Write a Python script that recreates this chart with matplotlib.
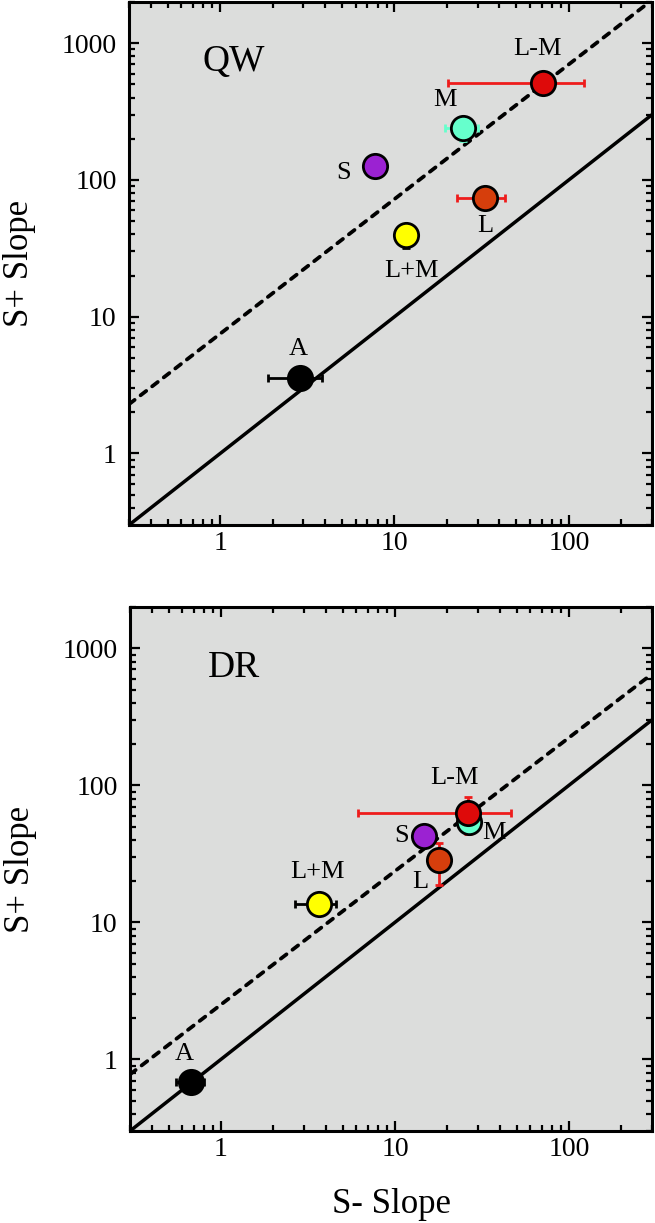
import numpy as np
import matplotlib
matplotlib.use("Agg")
import matplotlib.pyplot as plt
from matplotlib.ticker import LogLocator, NullFormatter, FixedLocator, FixedFormatter

plt.rcParams['font.family'] = ['Liberation Serif', 'DejaVu Serif']

# ---------------- data ----------------
labels = ["A", "L+M", "S", "M", "L", "L-M"]
face_colors = ["#000000", "#FFFF00", "#9B22D2", "#66FFCC", "#D63E0C", "#DE0A0A"]
err_colors = ["#000000", "#000000", "#9B22D2", "#66FFCC", "#EE1C1C", "#EE1C1C"]

# QW panel
qw_x = [2.86, 11.7, 7.75, 24.8, 33.0, 71.0]
qw_y = [3.54, 39.8, 126.0, 240.0, 73.9, 508.0]
qw_xerr = [0.99, 0.0, 0.0, 5.3, 10.3, 50.6]
qw_yerr = [0.0, 8.0, 0.0, 48.0, 0.0, 0.0]

# DR panel
dr_x = [0.673, 3.64, 14.6, 26.7, 18.0, 26.3]
dr_y = [0.688, 13.6, 42.5, 54.4, 28.4, 63.0]
dr_xerr = [0.125, 0.96, 0.0, 0.0, 0.0, 20.2]
dr_yerr = [0.0, 0.0, 0.0, 0.0, 9.8, 19.0]

# reference lines: y = coef * x ** expo
ident_coef, ident_expo = 1.0, 1.0
qw_dash_coef, qw_dash_expo = 7.5, 0.985
dr_dash_coef, dr_dash_expo = 2.51, 0.974

x_lim = (0.3, 300)
y_lim = (0.3, 2000)
x_ticks = [1, 10, 100]
x_tick_labels = ["1", "10", "100"]
y_ticks = [1, 10, 100, 1000]
y_tick_labels = ["1", "10", "100", "1000"]

# label offsets (points) for each marker label
qw_offsets = [(-1, 21), (4, -26), (-23, -5), (-13, 20), (0, -20), (-4, 25)]
dr_offsets = [(-5, 20), (-1, 23), (-16, 0), (18, -8), (-14, -16), (-10, 25)]

W, H = 655, 1223
fig = plt.figure(figsize=(W / 100, H / 100), dpi=100)

def axes_px(l, t, r, b):
    return [l / W, 1 - b / H, (r - l) / W, (b - t) / H]

ax1 = fig.add_axes(axes_px(129, 2, 652, 525))
ax2 = fig.add_axes(axes_px(130, 607, 652, 1131))

def draw_panel(ax, xs, ys, xerr, yerr, dcoef, dexpo, offsets, title):
    ax.set_facecolor("#DCDDDC")
    ax.set_xscale("log")
    ax.set_yscale("log")
    ax.set_xlim(*x_lim)
    ax.set_ylim(*y_lim)
    xl = np.logspace(np.log10(x_lim[0]), np.log10(x_lim[1]), 50)
    ax.plot(xl, ident_coef * xl ** ident_expo, color="black", lw=2.5, zorder=2)
    ax.plot(xl, dcoef * xl ** dexpo, color="black", lw=2.7, ls=(0, (1.9, 2.0)),
            dash_capstyle="round", zorder=2)
    for i in range(len(xs)):
        xe = xerr[i] if xerr[i] > 0 else None
        ye = yerr[i] if yerr[i] > 0 else None
        if xe is not None or ye is not None:
            ax.errorbar(xs[i], ys[i], xerr=xe, yerr=ye, fmt="none",
                        ecolor=err_colors[i], elinewidth=2.0, capsize=3.2,
                        capthick=2.0, zorder=3)
        ax.plot(xs[i], ys[i], "o", ms=17.5, mfc=face_colors[i], mec="black",
                mew=2.0, zorder=4)
        ax.annotate(labels[i], (xs[i], ys[i]), xytext=offsets[i],
                    textcoords="offset points", ha="center", va="center",
                    fontsize=19, zorder=5)
    ax.text(0.2, 0.885, title, transform=ax.transAxes, ha="center", va="center",
            fontsize=27)
    ax.xaxis.set_major_locator(FixedLocator(x_ticks))
    ax.xaxis.set_major_formatter(FixedFormatter(x_tick_labels))
    ax.yaxis.set_major_locator(FixedLocator(y_ticks))
    ax.yaxis.set_major_formatter(FixedFormatter(y_tick_labels))
    ax.xaxis.set_minor_locator(LogLocator(base=10, subs=np.arange(2, 10)))
    ax.yaxis.set_minor_locator(LogLocator(base=10, subs=np.arange(2, 10)))
    ax.xaxis.set_minor_formatter(NullFormatter())
    ax.yaxis.set_minor_formatter(NullFormatter())
    ax.tick_params(which="both", direction="in", top=True, right=True,
                   labelsize=20, width=1.6)
    ax.tick_params(which="major", length=7)
    ax.tick_params(which="minor", length=4)
    ax.tick_params(axis="x", which="major", pad=4)
    ax.tick_params(axis="y", which="major", pad=9)
    for s in ax.spines.values():
        s.set_linewidth(2.2)
    ax.set_ylabel("S+ Slope", fontsize=25)
    ax.yaxis.label.set_va("center")
    ax.yaxis.set_label_coords(-0.21, 0.5)

draw_panel(ax1, qw_x, qw_y, qw_xerr, qw_yerr, qw_dash_coef, qw_dash_expo,
           qw_offsets, "QW")
draw_panel(ax2, dr_x, dr_y, dr_xerr, dr_yerr, dr_dash_coef, dr_dash_expo,
           dr_offsets, "DR")
ax2.set_xlabel("S- Slope", fontsize=25)
ax2.xaxis.label.set_va("center")
ax2.xaxis.set_label_coords(0.5, -0.14)

fig.savefig("out.png", dpi=100)
